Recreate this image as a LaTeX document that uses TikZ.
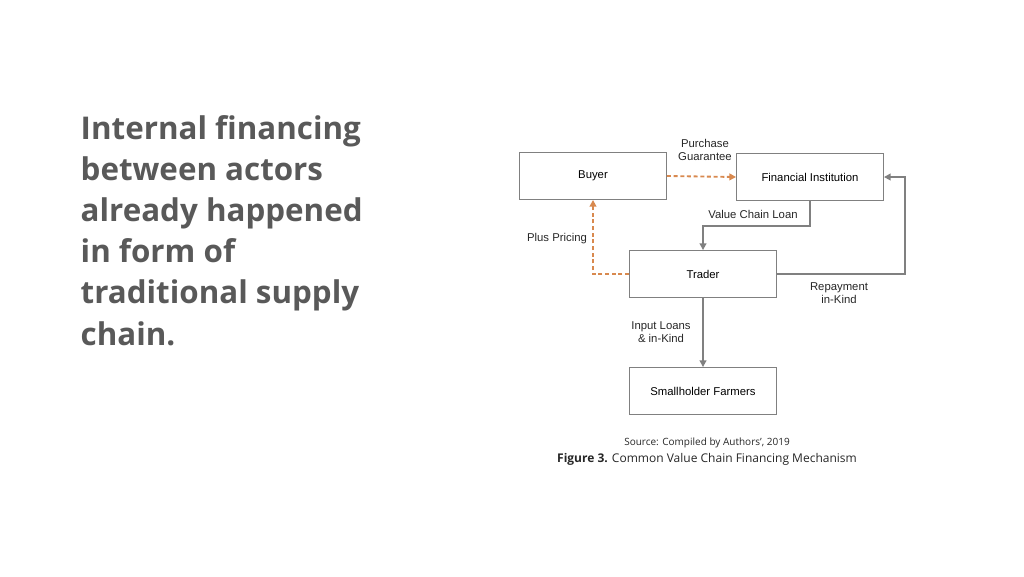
\documentclass[tikz,border=0pt]{standalone}
\usepackage{fontspec}
\setmainfont{Open Sans}
\newfontfamily\figfont{Liberation Sans}
\usetikzlibrary{arrows.meta}
\definecolor{titlegrey}{HTML}{595959}
\definecolor{linegrey}{HTML}{808080}
\definecolor{dashorange}{HTML}{D8894F}
\tikzset{
  actor/.style={draw=linegrey, line width=0.9pt, minimum width=110pt, minimum height=35pt, font=\figfont\fontsize{8.5}{10}\selectfont},
  flow/.style={draw=linegrey, line width=1.4pt, -{Triangle[length=5pt,width=5pt]}},
  plusflow/.style={draw=dashorange, line width=1.4pt, dash pattern=on 3pt off 2pt, -{Triangle[length=5pt,width=5pt]}},
  flowlabel/.style={font=\figfont\fontsize{8.5}{10}\selectfont, align=center, text=black!85}
}
\begin{document}
\begin{tikzpicture}[x=0.75pt, y=-0.75pt]
  \useasboundingbox (0,0) rectangle (1024,576);
  % title text
  \node[anchor=north west, align=left, text=titlegrey, font=\bfseries\fontsize{23.5}{30.8}\selectfont] (title) at (76,111)
    {Internal financing\\between actors\\already happened\\in form of\\traditional supply\\chain.};
  % actors
  \node[actor] (buyer) at (593,176) {Buyer};
  \node[actor] (fi) at (810,177) {Financial Institution};
  \node[actor] (trader) at (703,274) {Trader};
  \node[actor] (farmers) at (703,391) {Smallholder Farmers};
  % bends
  \coordinate (loanbend) at (810,226);
  \coordinate (repaybend) at (905,274);
  % connectors
  \draw[plusflow] (buyer.east) -- (fi.west);
  \draw[flow] (fi.south) |- (loanbend) -| (trader.north);
  \draw[flow] (trader.east) -- (repaybend) |- (fi.east);
  \draw[plusflow] (trader.west) -| (buyer.south);
  \draw[flow] (trader.south) -- (farmers.north);
  % labels
  \node[flowlabel] (lblguar) at (705,150) {Purchase\\Guarantee};
  \node[flowlabel] (lblloan) at (753,214) {Value Chain Loan};
  \node[flowlabel] (lblplus) at (557,239) {Plus Pricing};
  \node[flowlabel] (lblrepay) at (839,293) {Repayment\\in-Kind};
  \node[flowlabel] (lblinput) at (661,332) {Input Loans\\\& in-Kind};
  % caption
  \node[font=\fontsize{7.5}{9}\selectfont, text=black!85] (source) at (707,443) {Source: Compiled by Authors', 2019};
  \node[font=\fontsize{9}{11}\selectfont, text=black!85] (caption) at (707,459) {\textbf{Figure 3.} Common Value Chain Financing Mechanism};
\end{tikzpicture}
\end{document}
